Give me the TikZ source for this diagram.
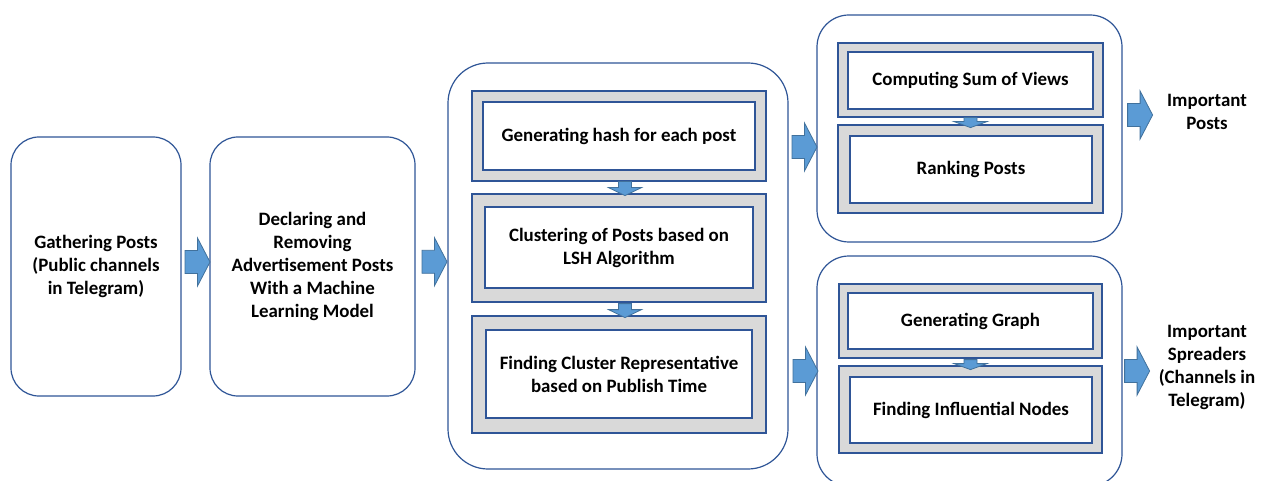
\documentclass[tikz,border=0pt]{standalone}
\usepackage{fontspec}
\setmainfont{Carlito}
\usetikzlibrary{calc}
\definecolor{frame}{HTML}{2F5597}
\definecolor{band}{HTML}{D9D9D9}
\definecolor{arrfill}{HTML}{5B9BD5}
\definecolor{arrline}{HTML}{41719C}
\newcommand\txtfont{\fontsize{18.9}{23}\selectfont\bfseries}
\tikzset{
  container/.style={draw=frame, line width=1.2pt, rounded corners=#1, fill=white, inner sep=0pt},
  bandbox/.style={draw=frame, line width=1.2pt, fill=band, inner sep=0pt},
  textbox/.style={draw=frame, line width=1.2pt, fill=white, inner sep=0pt, font=\txtfont, align=center},
  plain/.style={font=\txtfont, align=center, inner sep=0pt},
  arrsty/.style={fill=arrfill, draw=arrline, line width=0.8pt, line join=miter},
  rarrow/.pic={\path[arrsty] (-12.5,-11.5) -- (0,-11.5) -- (0,-24) -- (12.5,0) -- (0,24) -- (0,11.5) -- (-12.5,11.5) -- cycle;},
  bigdown/.pic={\path[arrsty] (-6.5,-7) -- (6.5,-7) -- (6.5,-1) -- (16.5,-1) -- (0,7) -- (-16.5,-1) -- (-6.5,-1) -- cycle;},
  smalldown/.pic={\path[arrsty] (-6.5,-5) -- (6.5,-5) -- (6.5,-1) -- (16.5,-1) -- (0,5) -- (-16.5,-1) -- (-6.5,-1) -- cycle;},
}
\begin{document}
\begin{tikzpicture}[x=1pt,y=-1pt]
\clip (0,0) rectangle (1266,481);
\fill[white] (0,0) rectangle (1266,481);

% left boxes
\node[container=28pt, minimum width=170pt, minimum height=259pt, font=\txtfont, align=center] (g) at (96,266.5)
  {Gathering Posts\\(Public channels\\in Telegram)};
\node[container=28pt, minimum width=205pt, minimum height=259pt, font=\txtfont, align=center] (d) at (312.5,266.5)
  {Declaring and\\Removing\\Advertisement Posts\\With a Machine\\Learning Model};

% middle container
\node[container=40pt, minimum width=340pt, minimum height=406pt] (c3) at (618,266) {};
\node[bandbox, minimum width=294pt, minimum height=90pt] (hO) at (619,136) {};
\node[textbox, minimum width=272pt, minimum height=68pt] (hI) at (619,136) {Generating hash for each post};
\node[bandbox, minimum width=294pt, minimum height=108pt] (lO) at (619,248) {};
\node[textbox, minimum width=268pt, minimum height=81pt] (lI) at (619,247.5) {Clustering of Posts based on\\LSH Algorithm};
\node[bandbox, minimum width=294pt, minimum height=117pt] (rO) at (619,374.5) {};
\node[textbox, minimum width=266pt, minimum height=88pt] (rI) at (619,374) {Finding Cluster Representative\\based on Publish Time};

% top right container
\node[container=32pt, minimum width=305pt, minimum height=227pt] (ct) at (969.5,128.5) {};
\node[bandbox, minimum width=265pt, minimum height=74pt] (sO) at (970.5,80) {};
\node[textbox, minimum width=245pt, minimum height=57pt] (sI) at (970.5,80.5) {Computing Sum of Views};
\node[bandbox, minimum width=265pt, minimum height=88pt] (kO) at (970.5,169) {};
\node[textbox, minimum width=242pt, minimum height=67pt] (kI) at (971,169.5) {Ranking Posts};

% bottom right container
\node[container=32pt, minimum width=305pt, minimum height=230pt] (cb) at (969.5,371) {};
\node[bandbox, minimum width=263pt, minimum height=74pt] (gO) at (970.5,321) {};
\node[textbox, minimum width=245pt, minimum height=56pt] (gI) at (970.5,321) {Generating Graph};
\node[bandbox, minimum width=263pt, minimum height=87pt] (fO) at (970.5,409.5) {};
\node[textbox, minimum width=242pt, minimum height=66pt] (fI) at (971,410) {Finding Influential Nodes};

% outputs
\node[plain] (po) at (1207,112) {Important\\Posts};
\node[plain] (sp) at (1207,367) {Important\\Spreaders\\(Channels in\\Telegram)};

% block arrows
\pic at ($(g.east)!0.5!(d.west)+(2,-4.5)$) {rarrow};
\pic at ($(d.east)!0.5!(c3.west)+(3,-4.5)$) {rarrow};
\pic at ($(c3.east |- ct.center)!0.5!(ct.west)+(2,18.5)$) {rarrow};
\pic at ($(c3.east |- cb.center)!0.5!(cb.west)+(3,0)$) {rarrow};
\pic at ($(ct.east |- po.center)+(17.5,3)$) {rarrow};
\pic at ($(cb.east |- sp.center)+(14.5,4)$) {rarrow};

\pic at ($(hO.south)+(6,7)$) {bigdown};
\pic at ($(lO.south)+(6,8)$) {bigdown};
\pic at ($(sO.south)+(0,5)$) {smalldown};
\pic at ($(gO.south)+(0,6)$) {smalldown};
\end{tikzpicture}
\end{document}
